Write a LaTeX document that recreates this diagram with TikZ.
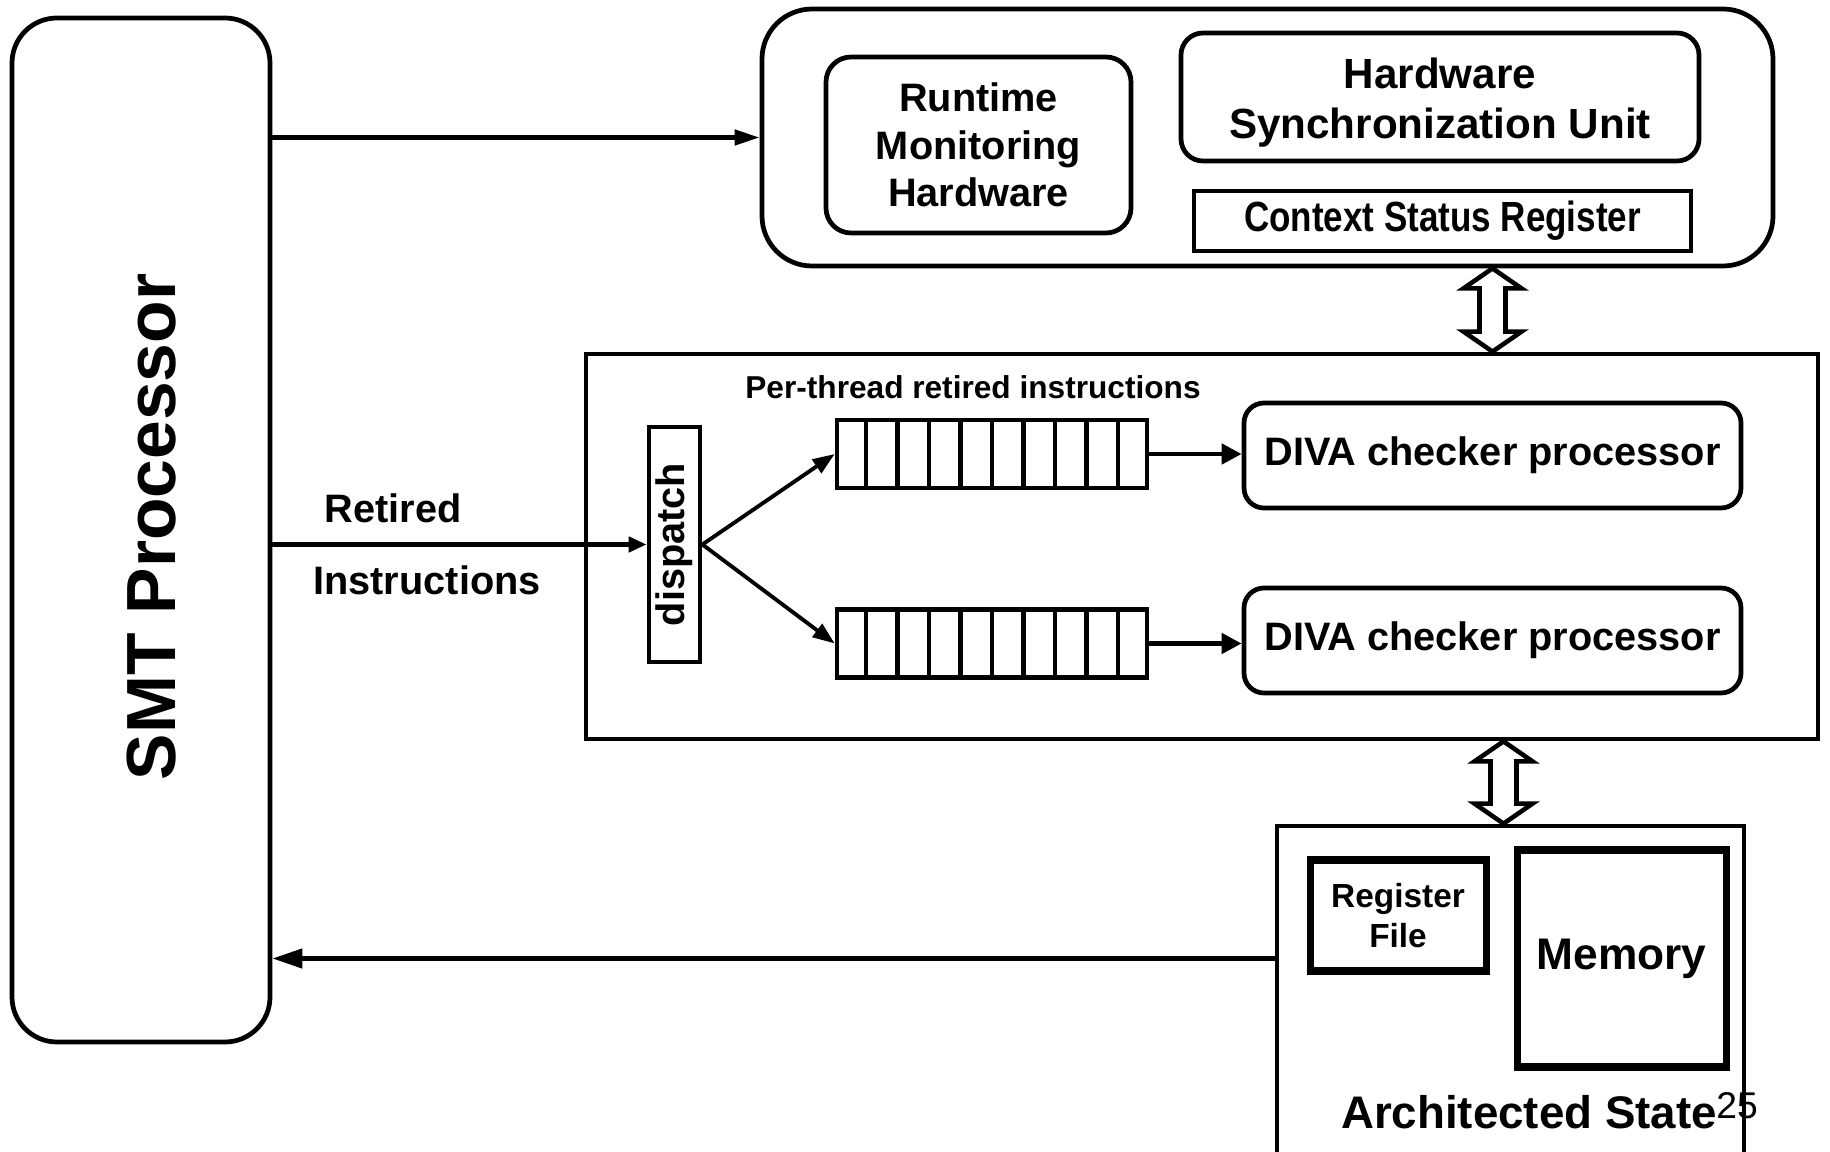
\documentclass[tikz,border=0pt]{standalone}
\usepackage{fontspec}
\setmainfont{Liberation Sans}
\newfontfamily\narrowfont{Liberation Sans}[FakeStretch=0.83]
\usetikzlibrary{arrows.meta,calc}

% hollow two-headed arrow between two points on one vertical (top first)
\newcommand{\hollowarrow}[2]{%
  \draw[line width=1.3pt, fill=white] let \p1=(#1), \p2=(#2) in
    (\x1,\y1) -- (\x1-2.9mm,\y1-2mm) -- (\x1-1.3mm,\y1-2mm) -- (\x1-1.3mm,\y2+2mm)
    -- (\x1-2.9mm,\y2+2mm) -- (\x1,\y2) -- (\x1+2.9mm,\y2+2mm) -- (\x1+1.3mm,\y2+2mm)
    -- (\x1+1.3mm,\y1-2mm) -- (\x1+2.9mm,\y1-2mm) -- cycle;}

\begin{document}
\begin{tikzpicture}[
  procbox/.style={draw, line width=1.35pt, rounded corners=0.45cm, inner sep=0pt},
  groupbox/.style={draw, line width=1.35pt, rounded corners=0.5cm, inner sep=0pt},
  unitbox/.style={draw, line width=1.35pt, rounded corners=0.25cm, inner sep=0pt,
    align=center, font=\fontsize{11.3}{13.6}\selectfont\bfseries},
  regbox/.style={draw, line width=1.35pt, inner sep=0pt, align=center},
  heavybox/.style={draw, line width=2pt, inner sep=0pt, align=center},
  queuebox/.style={draw, line width=1.3pt, inner sep=0pt,
    minimum width=3.10cm, minimum height=0.68cm},
  flowarrow/.style={-{Triangle[length=2.2mm,width=1.6mm]}, line width=1.3pt},
  lbl/.style={font=\fontsize{11.3}{13.6}\selectfont\bfseries}
]
\useasboundingbox (0,0) rectangle (18.30,-11.52);
\clip (0,0) rectangle (18.30,-11.52);

% processor
\node[procbox, minimum width=2.58cm, minimum height=10.24cm] (smt) at (1.41,-5.30) {};
\node[rotate=90, font=\fontsize{19.8}{23}\selectfont\bfseries] (smtlbl) at (1.52,-5.27) {SMT Processor};

% monitoring block
\node[groupbox, minimum width=10.11cm, minimum height=2.57cm] (topbox) at (12.675,-1.375) {};
\node[unitbox, minimum width=3.05cm, minimum height=1.76cm] (rmh) at (9.785,-1.45) {Runtime\\Monitoring\\Hardware};
\node[unitbox, rounded corners=0.22cm, minimum width=5.18cm, minimum height=1.28cm,
  font=\fontsize{12}{14.3}\selectfont\bfseries] (hsu) at (14.40,-0.97) {\rule{0pt}{11.8pt}Hardware\\Synchronization Unit};
\node[regbox, minimum width=4.97cm, minimum height=0.60cm,
  font=\fontsize{12}{14}\selectfont\narrowfont\bfseries] (csr) at (14.425,-2.21) {Context Status Register};

% checker block
\node[regbox, minimum width=12.32cm, minimum height=3.85cm] (mid) at (12.02,-5.465) {};
\node[font=\fontsize{9}{11}\selectfont\bfseries] (perlbl) at (9.73,-3.87) {Per-thread retired instructions};
\node[regbox, minimum width=0.51cm, minimum height=2.35cm] (disp) at (6.745,-5.445) {};
\node[lbl, rotate=90] (displbl) at (disp.center) {dispatch};
\node[queuebox] (q1) at (9.92,-4.54) {};
\node[queuebox] (q2) at (9.92,-6.435) {};
\foreach \q in {q1,q2}
  \foreach \i in {1,...,9}
    \draw[line width=1.3pt] ($(\q.north west)!\i/10!(\q.north east)$) -- ($(\q.south west)!\i/10!(\q.south east)$);
\node[unitbox, rounded corners=0.2cm, minimum width=4.97cm, minimum height=1.05cm] (diva1) at (14.925,-4.555) {DIVA checker processor};
\node[unitbox, rounded corners=0.2cm, minimum width=4.97cm, minimum height=1.05cm] (diva2) at (14.925,-6.405) {DIVA checker processor};

% architected state
\node[regbox, minimum width=4.67cm, minimum height=3.74cm] (arch) at (15.105,-10.13) {};
\node[heavybox, minimum width=1.76cm, minimum height=1.11cm,
  font=\fontsize{9.5}{11.6}\selectfont\bfseries] (regf) at (13.98,-9.155) {Register\\File};
\node[heavybox, minimum width=2.09cm, minimum height=2.17cm,
  font=\fontsize{12.6}{15}\selectfont\bfseries] (mem) at (16.215,-9.585) {Memory};
\node[font=\fontsize{13}{15}\selectfont\bfseries] (archlbl) at (15.29,-11.12) {Architected State};
\node[font=\fontsize{10.6}{12}\selectfont] (pagenum) at (17.37,-11.06) {25};

% labels
\node[lbl] (retlbl) at (3.93,-5.08) {Retired};
\node[lbl] (inslbl) at (4.27,-5.80) {Instructions};

% connectors
\draw[flowarrow, -{Triangle[length=2.5mm,width=1.5mm]}] (topbox.west -| smt.east) -- (topbox.west);
\draw[flowarrow, -{Triangle[length=1.8mm,width=1.5mm]}] (disp.west -| smt.east) -- (disp.west);
\draw[flowarrow, line width=1.1pt] (disp.east) -- (q1.west);
\draw[flowarrow, line width=1.1pt] (disp.east) -- (q2.west);
\draw[flowarrow, -{Triangle[length=2mm,width=2mm]}] (q1.east) -- (q1.east -| diva1.west);
\draw[flowarrow, -{Triangle[length=2mm,width=2mm]}] (q2.east) -- (q2.east -| diva2.west);
\draw[flowarrow, -{Triangle[length=3mm,width=1.9mm]}] (mem.west -| arch.west) -- (mem.west -| smt.east);
\hollowarrow{diva1 |- topbox.south}{diva1 |- mid.north}
\hollowarrow{[xshift=-0.07cm]arch.north |- mid.south}{[xshift=-0.07cm]arch.north}
\end{tikzpicture}
\end{document}
